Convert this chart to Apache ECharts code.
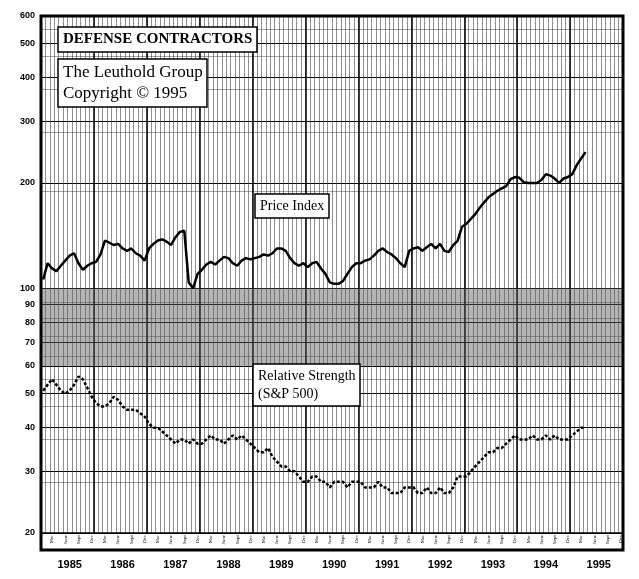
<!DOCTYPE html>
<html>
<head>
<meta charset="UTF-8">
<script src="https://cdn.jsdelivr.net/npm/echarts@6/dist/echarts.min.js"></script>
<style>html,body{margin:0;background:#fff}#c{width:639px;height:579px}</style>
</head>
<body>
<div id="c"></div>
<script>
var years = ['1985','1986','1987','1988','1989','1990','1991','1992','1993','1994','1995'];
var quarterNames = ['Mar', 'June', 'Sept', 'Dec'];
var yTicks = [20, 30, 40, 50, 60, 70, 80, 90, 100, 200, 300, 400, 500, 600];

// monthly, Jan 1985 ..
var priceIndex = [
  106,118,114,112,116,120,124,126,118,113,116,118,
  119,125,137,135,133,134,130,128,130,126,124,120,
  130,134,137,138,136,133,140,145,146,104,100,110,
  113,117,119,117,120,123,122,118,116,120,122,121,
  122,123,125,124,126,130,130,128,122,118,116,118,
  115,118,119,114,110,104,103,103,105,110,115,118,
  118,120,121,124,128,130,127,125,122,118,115,128,
  130,131,128,131,134,130,134,128,127,133,137,150,
  153,158,163,170,176,182,186,190,193,196,205,208,
  207,201,200,200,200,204,212,210,206,200,206,208,
  212,225,235,245
];
var relStrength = [
  51,53,55,53,51,50,51,53,56,55,52,49,
  47,46,46,47,49,48,46,45,45,45,44,43,
  41,40,40,39,38,37,36,37,37,36,37,36,
  36,37,38,37,37,36,37,38,37,38,37,36,
  35,34,34,35,33,32,31,31,30,30,29,28,
  28,29,29,28,28,27,28,28,28,27,28,28,
  28,27,27,27,28,27,27,26,26,26,27,27,
  27,26,26,27,26,26,27,26,26,27,29,29,
  29,30,31,32,33,34,34,35,35,36,37,38,
  37,37,37,38,37,37,38,37,38,37,37,37,
  38,39,40,40
];

var months = [];
years.forEach(function (y) { for (var m = 0; m < 12; m++) months.push(y + '-' + (m + 1)); });

var chart = echarts.init(document.getElementById('c'));
var serif = 'Liberation Serif';
function box(text, left, top, size, bold) {
  return {
    text: text, left: left, top: top, padding: [3, 5],
    backgroundColor: '#fff', borderColor: '#000', borderWidth: 1.5,
    textStyle: { fontFamily: serif, fontSize: size, fontWeight: bold ? 'bold' : 'normal', color: '#000', lineHeight: size + 4 }
  };
}
chart.setOption({
  animation: false,
  title: [
    box('DEFENSE CONTRACTORS', 58, 27, 15, true),
    box('The Leuthold Group\nCopyright \u00a9 1995', 58, 59, 17, false),
    box('Price Index', 255, 194, 14, false),
    box('Relative Strength\n(S&P 500)', 253, 364, 14, false)
  ],
  grid: { left: 41, right: 16, top: 16, bottom: 46 },
  xAxis: [{
    type: 'category', data: months, boundaryGap: true,
    axisLine: { show: false }, axisTick: { show: false },
    axisLabel: {
      interval: function (i) { return i % 3 === 2; },
      formatter: function (v, i) { return quarterNames[(i % 12 - 2) / 3]; },
      rotate: 90, fontSize: 5, margin: 2, color: '#000', fontFamily: serif
    },
    splitLine: { show: true, interval: 0, lineStyle: { color: '#444', width: 0.6 } }
  }, {
    type: 'category', data: months, boundaryGap: true, position: 'bottom', offset: 18,
    axisLine: { show: false }, axisTick: { show: false },
    axisLabel: {
      interval: function (i) { return i % 12 === 6; },
      formatter: function (v) { return v.split('-')[0]; },
      fontSize: 11, fontWeight: 'bold', color: '#000', fontFamily: 'Liberation Sans'
    },
    splitLine: { show: true, interval: function (i) { return i % 12 === 0; }, lineStyle: { color: '#000', width: 1.5 } }
  }],
  yAxis: {
    type: 'log', logBase: 10, min: 20, max: 600,
    axisLine: { show: false },
    axisTick: { show: false, customValues: yTicks },
    axisLabel: { customValues: yTicks, fontSize: 9, fontWeight: 'bold', color: '#000', margin: 6, fontFamily: 'Liberation Sans' },
    splitLine: { show: true, lineStyle: { color: '#000', width: 1 } },
    minorTick: { show: false, splitNumber: 10 },
    minorSplitLine: { show: true, lineStyle: { color: '#666', width: 0.6 } }
  },
  graphic: [{
    type: 'rect', shape: { x: 41, y: 16, width: 582, height: 534 },
    style: { fill: 'none', stroke: '#000', lineWidth: 3 }, z: 100
  }, {
    type: 'line', shape: { x1: 41, y1: 533, x2: 623, y2: 533 },
    style: { stroke: '#000', lineWidth: 1.5 }, z: 100
  }],
  series: [{
    name: 'Price Index', type: 'line', data: priceIndex, showSymbol: false,
    lineStyle: { color: '#000', width: 2.5 },
    markArea: {
      silent: true,
      itemStyle: { color: 'rgba(90,90,90,0.45)' },
      data: [[{ yAxis: 60 }, { yAxis: 100 }]]
    }
  }, {
    name: 'Relative Strength', type: 'line', data: relStrength, showSymbol: false,
    lineStyle: { color: '#000', width: 2.5, type: [3, 2] }
  }]
});
</script>
</body>
</html>
